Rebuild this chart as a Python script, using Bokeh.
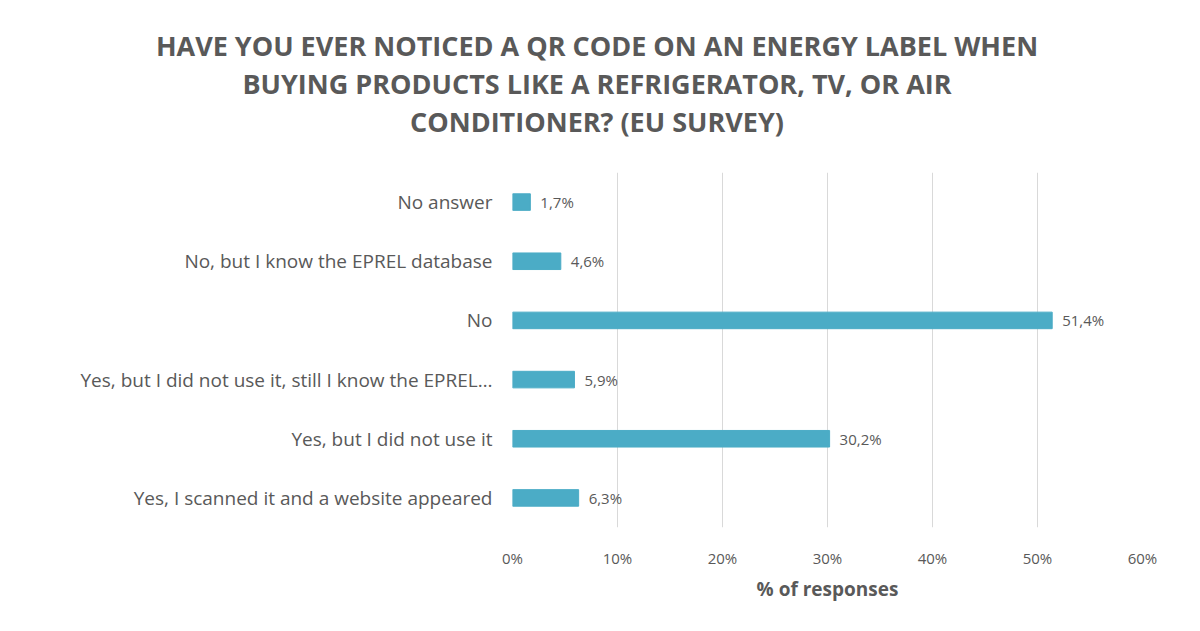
from bokeh.plotting import figure
from bokeh.models import Div, NumeralTickFormatter, ColumnDataSource, FixedTicker
from bokeh.layouts import column
from bokeh.embed import file_html
from bokeh.resources import INLINE
from bokeh.core.properties import value

categories = ["Yes, I scanned it and a website appeared", "Yes, but I did not use it",
              "Yes, but I did not use it, still I know the EPREL…", "No",
              "No, but I know the EPREL database", "No answer"]
values = [6.3, 30.2, 5.9, 51.4, 4.6, 1.7]
ticks = [0, 10, 20, 30, 40, 50, 60]
title = "HAVE YOU EVER NOTICED A QR CODE ON AN ENERGY LABEL WHEN<br>BUYING PRODUCTS LIKE A REFRIGERATOR, TV, OR AIR<br>CONDITIONER? (EU SURVEY)"

gray = "#595959"
font = "Open Sans"

div = Div(text=title, width=1184, height=150,
          styles={"text-align": "center", "font-family": font, "font-weight": "bold",
                  "font-size": "27px", "color": gray, "line-height": "38px",
                  "padding-top": "22px", "width": "1184px"})

src = ColumnDataSource(dict(cat=categories, val=[v / 100 for v in values],
                            lab=[f"{v:.1f}%".replace(".", ",") for v in values]))

p = figure(y_range=categories, x_range=(0, 0.6), width=1184, height=465,
           output_backend="svg", toolbar_location=None,
           min_border_left=512, min_border_right=42, min_border_top=12, min_border_bottom=98)
p.hbar(y="cat", right="val", height=0.28, source=src, color="#4BACC6")
p.text(x="val", y="cat", text="lab", source=src, x_offset=10, text_baseline="middle",
       text_font=value(font), text_font_size="15px", text_color=gray)

p.xaxis.ticker = FixedTicker(ticks=[t / 100 for t in ticks])
p.xaxis.formatter = NumeralTickFormatter(format="0%")
p.xaxis.axis_label = "% of responses"
p.xaxis.axis_label_text_font = font
p.xaxis.axis_label_text_font_style = "bold"
p.xaxis.axis_label_text_font_size = "19px"
p.xaxis.axis_label_text_color = gray
for ax in (p.xaxis, p.yaxis):
    ax.major_label_text_font = font
    ax.major_label_text_color = gray
    ax.axis_line_color = None
    ax.major_tick_line_color = None
    ax.minor_tick_line_color = None
p.xaxis.major_label_text_font_size = "15px"
p.yaxis.major_label_text_font_size = "19px"
p.yaxis.major_label_standoff = 14
p.xaxis.major_label_standoff = 14
p.ygrid.grid_line_color = None
p.xgrid.grid_line_color = "#D9D9D9"
p.outline_line_color = None

open("out.html", "w").write(file_html(column(div, p), INLINE))
